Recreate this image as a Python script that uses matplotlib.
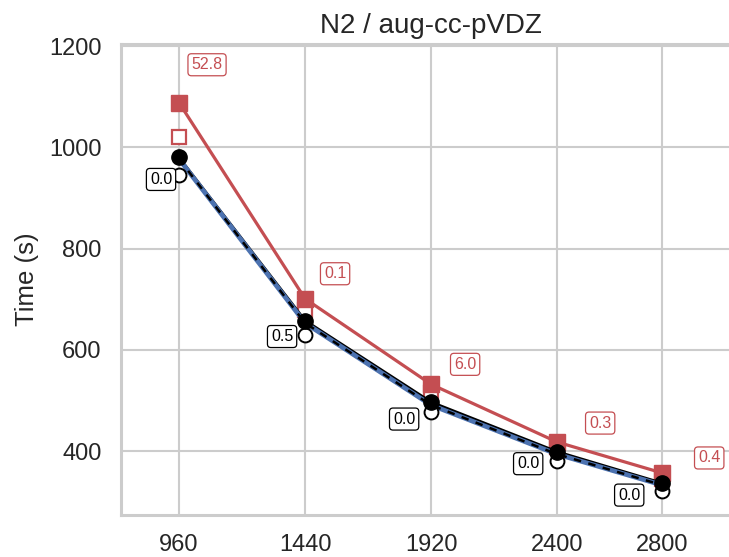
import matplotlib
matplotlib.use("Agg")
import matplotlib.pyplot as plt
import seaborn as sns

# grid points vs. wall time (s)
n_grid = [960, 1440, 1920, 2400, 2800]
t_red = [1088, 701, 532, 418, 357]
t_red_open = [1020, 678, 515, 408, 345]
t_black = [980, 658, 497, 399, 337]
t_black_open = [945, 630, 477, 380, 321]
t_blue = [977, 653, 491, 394, 333]

red_labels = ['52.8', '0.1', '6.0', '0.3', '0.4']
black_labels = ['0.0', '0.5', '0.0', '0.0', '0.0']

# label offsets in pixels (dx, dy; dy downwards)
red_off = [(28, -38), (30, -25), (34, -20), (43, -19), (47, -15)]
black_off = [(-18, 22), (-23, 16), (-27, 17), (-29, 12), (-33, 12)]

sns.set_style('whitegrid')
plt.rcParams['font.family'] = ['Liberation Sans', 'DejaVu Sans']

red = '#c44e52'
blue = '#4c72b0'

fig = plt.figure(figsize=(7.29, 5.57), dpi=100)
ax = fig.add_axes([121 / 729, 1 - 515 / 557, (741 - 121) / 729, (515 - 44) / 557])

ax.plot(n_grid, t_red_open, 's', ms=10, mfc='white', mec=red, mew=1.6, zorder=2)
ax.plot(n_grid, t_red, '-s', color=red, lw=2.3, ms=11, zorder=3)
ax.plot(n_grid, t_black, '-', color='black', lw=2.0, zorder=4)
ax.plot(n_grid, t_blue, '-', color=blue, lw=3.4, zorder=5)
ax.plot(n_grid, t_blue, '--', color='black', lw=1.8, dashes=(3, 3), zorder=6)
ax.plot(n_grid, t_black_open, 'o', ms=10, mfc='white', mec='black', mew=1.4, zorder=7)
ax.plot(n_grid, t_black, 'o', color='black', ms=11, zorder=8)

px = 0.72
for x, y, s, (dx, dy) in zip(n_grid, t_red, red_labels, red_off):
    ax.annotate(s, (x, y), xytext=(dx * px, -dy * px), textcoords='offset points',
                ha='center', va='center', fontsize=11.5, color=red, zorder=10,
                bbox=dict(boxstyle='round,pad=0.22', fc='white', ec=red, lw=0.9))
for x, y, s, (dx, dy) in zip(n_grid, t_black, black_labels, black_off):
    ax.annotate(s, (x, y), xytext=(dx * px, -dy * px), textcoords='offset points',
                ha='center', va='center', fontsize=11.5, color='black', zorder=10,
                bbox=dict(boxstyle='round,pad=0.22', fc='white', ec='black', lw=0.9))

ax.set_xlim(739, 3100)
ax.set_ylim(274, 1204)
ax.set_xticks(n_grid)
ax.set_yticks([400, 600, 800, 1000, 1200])
ax.tick_params(axis='both', labelsize=17, colors='.15', pad=14, length=0)
ax.grid(True, color='.8', lw=1.5)
for sp in ax.spines.values():
    sp.set_color('.8')
    sp.set_linewidth(2.2)

ax.set_ylabel('Time (s)', fontsize=18.5, color='.15', labelpad=7)
ax.set_title('N2 / aug-cc-pVDZ', fontsize=20, color='.15', pad=8)

fig.savefig('out.png', dpi=100)
